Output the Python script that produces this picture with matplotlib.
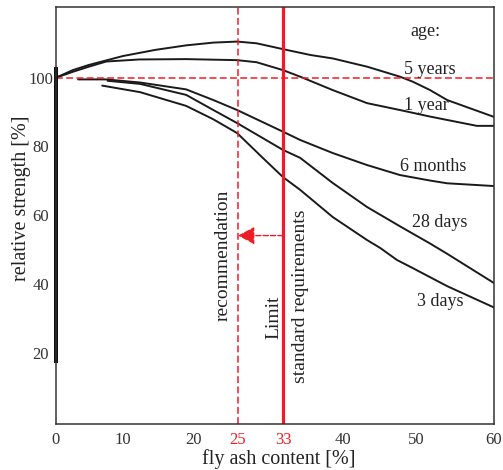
import numpy as np
import matplotlib
matplotlib.use("Agg")
import matplotlib.pyplot as plt

plt.rcParams['font.family'] = ['Liberation Serif', 'DejaVu Serif']

# --- data (fly ash content [%] -> relative strength [%]) ---
five_years_x = [0, 2.5, 4.9, 10.0, 14.6, 18.9, 22.2, 24.9, 28.3, 33.0, 36.2, 38.8, 43.3, 47.8, 49.6, 51.8, 54.0, 60.0]
five_years_y = [100, 102.2, 103.7, 106.3, 108.1, 109.4, 110.2, 110.5, 110.0, 108.3, 106.6, 105.6, 103.2, 100.3, 98.8, 96.4, 93.5, 88.6]

one_year_x = [0, 2.5, 4.9, 7.5, 12.3, 18.9, 24.9, 28.3, 33.0, 35.0, 38.8, 43.3, 45.1, 47.8, 51.8, 57.8, 60.0]
one_year_y = [100, 101.7, 103.2, 104.7, 105.3, 105.4, 105.1, 104.5, 102.2, 100.3, 96.4, 92.6, 91.8, 90.6, 88.7, 86.0, 86.0]

six_months_x = [3.3, 7.5, 12.4, 18.9, 22.2, 24.9, 33.0, 35.0, 38.8, 43.3, 47.8, 51.8, 54.0, 60.0]
six_months_y = [99.5, 99.5, 98.6, 96.6, 93.5, 90.6, 84.3, 81.9, 78.1, 74.6, 71.7, 70.1, 69.3, 68.5]

days28_x = [7.7, 12.4, 18.9, 22.2, 24.9, 33.0, 35.0, 38.8, 43.3, 47.8, 51.8, 54.0, 60.0]
days28_y = [99.1, 98.2, 95.0, 90.6, 86.8, 79.0, 76.7, 69.4, 62.4, 56.8, 51.8, 48.8, 40.3]

days3_x = [6.9, 12.4, 18.9, 22.2, 24.9, 29.4, 33.0, 35.0, 38.8, 43.3, 45.1, 47.4, 49.6, 54.0, 60.0]
days3_y = [97.7, 95.8, 91.8, 87.9, 83.9, 76.7, 71.1, 67.4, 59.5, 52.8, 50.5, 47.0, 44.6, 39.4, 33.2]

curve_labels = ['5 years', '1 year', '6 months', '28 days', '3 days']
label_x = [51.8, 51.3, 52.2, 53.1, 53.1]
label_y = [102.4, 91.8, 74.3, 57.8, 34.9]

x_ticks = [0, 10, 20, 25, 33, 40, 50, 60]
y_ticks = [20, 40, 60, 80, 100]
recommendation = 25
limit = 33
reference_level = 100
arrow_level = 54.1

# the original axis is not evenly spaced: tick positions along the axis (px)
tick_pos = [0, 67, 138, 182, 227, 287, 360, 438]


def fwd(v):
    return np.interp(v, x_ticks, tick_pos)


def inv(v):
    return np.interp(v, tick_pos, x_ticks)


red = '#ee1c25'
ink = '#1a1a1a'

fig = plt.figure(figsize=(5.03, 4.70), dpi=100)
ax = fig.add_axes([0.1113, 0.0979, 0.8708, 0.8872])
ax.set_xscale('function', functions=(fwd, inv))

for xs, ys in [(five_years_x, five_years_y), (one_year_x, one_year_y),
               (six_months_x, six_months_y), (days28_x, days28_y),
               (days3_x, days3_y)]:
    ax.plot(xs, ys, color=ink, lw=1.4, solid_capstyle='round')

for name, lx, ly in zip(curve_labels, label_x, label_y):
    ax.text(lx, ly, name, fontsize=13, ha='center', va='center', color='#222222')
ax.text(51.2, 113.3, 'age:', fontsize=13, ha='center', va='center', color='#222222')

# reference lines
ax.axhline(reference_level, color=red, lw=1.1, dashes=(4.5, 2.2))
ax.axvline(recommendation, color=red, lw=1.1, dashes=(4.5, 2.2))
ax.axvline(limit, color=red, lw=2.3)
ax.annotate('', xy=(recommendation, arrow_level), xytext=(limit, arrow_level),
            arrowprops=dict(arrowstyle='-|>,head_length=0.85,head_width=0.45',
                            color=red, lw=1.0, linestyle='--',
                            shrinkA=0, shrinkB=0, mutation_scale=12))

ax.text(23.35, 48.3, 'recommendation', rotation=90, fontsize=14,
        ha='center', va='center', color='#222222')
ax.text(31.4, 30.3, 'Limit', rotation=90, fontsize=14,
        ha='center', va='center', color='#222222')
ax.text(35.0, 36.4, 'standard requirements', rotation=90, fontsize=14,
        ha='center', va='center', color='#222222')

ax.set_xlim(0, 60)
ax.set_ylim(-0.67, 120.55)
ax.set_xticks(x_ticks)
ax.set_xticklabels([str(t) for t in x_ticks])
ax.set_yticks(y_ticks)
ax.set_yticklabels([str(t) for t in y_ticks])
ax.tick_params(axis='both', length=0, labelsize=12, labelcolor='#333333')
ax.tick_params(axis='x', pad=6)
ax.tick_params(axis='y', pad=11)
for lbl in ax.get_yticklabels():
    lbl.set_ha('center')
for lbl in ax.get_xticklabels():
    if lbl.get_text() in (str(recommendation), str(limit)):
        lbl.set_color(red)

for s in ax.spines.values():
    s.set_color('#333333')
    s.set_linewidth(1.1)
# thick part of the left axis line as in the original
ax.plot([0, 0], [17, 103], color='black', lw=2.8, clip_on=False, solid_capstyle='butt')

ax.set_xlabel('fly ash content [%]', fontsize=14.5, color='#222222')
ax.set_ylabel('relative strength [%]', fontsize=14.5, color='#222222')
ax.xaxis.label.set_va('baseline')
ax.xaxis.set_label_coords(0.509, -0.096)
ax.yaxis.label.set_va('baseline')
ax.yaxis.set_label_coords(-0.068, 0.541)

fig.savefig('out.png', dpi=100)
